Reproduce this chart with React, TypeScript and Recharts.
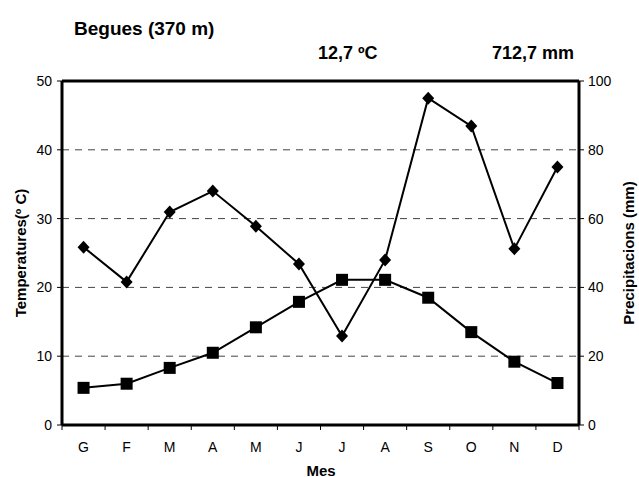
import React from 'react';
import { LineChart, Line, XAxis, YAxis, CartesianGrid, ReferenceLine } from 'recharts';

const months = ['G', 'F', 'M', 'A', 'M', 'J', 'J', 'A', 'S', 'O', 'N', 'D'];
const temperature = [5.4, 6.0, 8.3, 10.5, 14.2, 17.9, 21.1, 21.1, 18.5, 13.5, 9.2, 6.1];
const precipitation = [51.7, 41.6, 61.9, 68.0, 57.8, 46.8, 25.9, 48.0, 95.0, 86.9, 51.2, 75.0];
const tempTicks = [0, 10, 20, 30, 40, 50];
const precTicks = [0, 20, 40, 60, 80, 100];

const data = months.map((m, i) => ({ pos: i + 0.5, month: m, temp: temperature[i], prec: precipitation[i] }));
const xTicks: number[] = [];
for (let i = 0; i <= 24; i++) xTicks.push(i / 2);

const FONT = '"Liberation Sans", Arial, sans-serif';

const XTick = (props: any) => {
  const { x, y, payload } = props;
  const v = payload.value;
  if (Number.isInteger(v)) {
    return <line x1={x} x2={x} y1={y} y2={y + 5} stroke="#000" strokeWidth={1} />;
  }
  const label = months[Math.floor(v)];
  return (
    <text x={x} y={y + 27} textAnchor="middle" fontSize={14} fontFamily={FONT} fill="#000">
      {label}
    </text>
  );
};

const Square = (props: any) => {
  const { cx, cy } = props;
  if (cx == null || cy == null) return null;
  return <rect key={`s${props.index}`} x={cx - 6} y={cy - 6} width={12} height={12} fill="#000" />;
};

const Diamond = (props: any) => {
  const { cx, cy } = props;
  if (cx == null || cy == null) return null;
  return (
    <polygon
      key={`d${props.index}`}
      points={`${cx},${cy - 6.5} ${cx + 6},${cy} ${cx},${cy + 6.5} ${cx - 6},${cy}`}
      fill="#000"
    />
  );
};

const textStyle: React.CSSProperties = {
  position: 'absolute',
  fontFamily: FONT,
  fontWeight: 'bold',
  color: '#000',
  whiteSpace: 'nowrap',
  lineHeight: 1,
};

export default function App() {
  return (
    <div style={{ position: 'absolute', left: 0, top: 0, width: 639, height: 477, background: '#fff' }}>
      <LineChart width={639} height={477} data={data} margin={{ top: 81, right: 0, bottom: 0, left: 0 }}>
        <CartesianGrid yAxisId="t" vertical={false} stroke="#444" strokeDasharray="7 6" />
        <XAxis
          dataKey="pos"
          type="number"
          domain={[0, 12]}
          ticks={xTicks}
          interval={0}
          tickSize={0}
          tickMargin={0}
          tickLine={false}
          tick={<XTick />}
          height={52}
          axisLine={{ stroke: '#000', strokeWidth: 3 }}
        />
        <YAxis
          yAxisId="t"
          domain={[0, 50]}
          ticks={tempTicks}
          width={62}
          tickSize={5}
          tickMargin={5}
          tickLine={{ stroke: '#000' }}
          axisLine={{ stroke: '#000', strokeWidth: 3 }}
          tick={{ fill: '#000', fontSize: 14, fontFamily: FONT }}
        />
        <YAxis
          yAxisId="p"
          orientation="right"
          domain={[0, 100]}
          ticks={precTicks}
          width={60}
          tickSize={5}
          tickMargin={4}
          tickLine={{ stroke: '#000' }}
          axisLine={{ stroke: '#000', strokeWidth: 3 }}
          tick={{ fill: '#000', fontSize: 14, fontFamily: FONT }}
        />
        <ReferenceLine yAxisId="t" y={50} stroke="#000" strokeWidth={3} />
        <Line
          yAxisId="p"
          dataKey="prec"
          stroke="#000"
          strokeWidth={2}
          dot={<Diamond />}
          isAnimationActive={false}
        />
        <Line
          yAxisId="t"
          dataKey="temp"
          stroke="#000"
          strokeWidth={2}
          dot={<Square />}
          isAnimationActive={false}
        />
      </LineChart>
      <div style={{ ...textStyle, left: 74, top: 19, fontSize: 19 }}>Begues (370 m)</div>
      <div style={{ ...textStyle, left: 318, top: 44, fontSize: 18 }}>12,7 ºC</div>
      <div style={{ ...textStyle, left: 492, top: 44, fontSize: 18 }}>712,7 mm</div>
      <div style={{ ...textStyle, left: 321, top: 470, fontSize: 15, transform: 'translate(-50%, -50%)' }}>Mes</div>
      <div
        style={{ ...textStyle, left: 20, top: 253, fontSize: 15, transform: 'translate(-50%, -50%) rotate(-90deg)' }}
      >
        Temperatures(º C)
      </div>
      <div
        style={{ ...textStyle, left: 628, top: 253, fontSize: 15, transform: 'translate(-50%, -50%) rotate(-90deg)' }}
      >
        Precipitacions (mm)
      </div>
    </div>
  );
}
